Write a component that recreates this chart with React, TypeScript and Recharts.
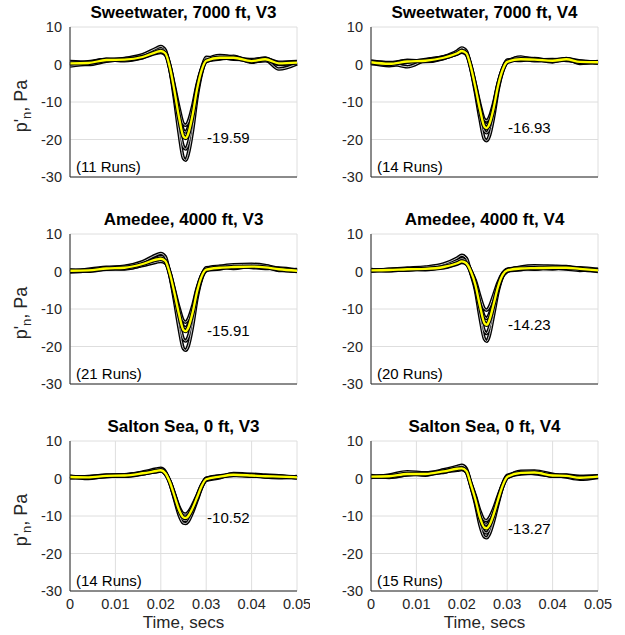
import { LineChart, Line, XAxis, YAxis, CartesianGrid, ReferenceDot } from 'recharts';

// sample times (s), denser through the pressure dip
const times = [
  0, 0.004, 0.008, 0.012, 0.016, 0.019, 0.02, 0.021, 0.022, 0.023, 0.024, 0.025, 0.0255, 0.026,
  0.027, 0.028, 0.029, 0.03, 0.033, 0.036, 0.04, 0.043, 0.046, 0.05,
];
const xTicks = [0, 0.01, 0.02, 0.03, 0.04, 0.05];
const yTicks = [-30, -20, -10, 0, 10];

const sweetwaterV3Mean = [0.3, 0.4, 1.2, 1.3, 2.0, 3.3, 3.6, 3.0, -0.8, -7.0, -14.0, -19.2, -19.59, -18.6, -13.5, -6.5, -1.5, 1.0, 1.8, 1.8, 0.9, 1.4, 0.3, 0.5];
const sweetwaterV3Runs = [
  [-0.4, 0.2, 1.0, 1.6, 2.6, 4.3, 4.8, 3.8, -1.2, -9.0, -18.0, -25.0, -25.5, -24.0, -17.5, -8.5, -2.2, 1.2, 2.4, 2.0, 1.2, 1.7, 0.0, 0.6],
  [0.8, 0.6, 1.4, 1.2, 2.2, 3.8, 4.2, 3.4, -1.0, -8.0, -16.0, -22.0, -22.5, -21.3, -15.5, -7.5, -1.8, 0.8, 1.5, 2.2, 0.6, 1.2, -1.2, 0.2],
  [0.1, 0.7, 1.3, 1.0, 1.8, 3.0, 3.2, 2.6, -0.6, -6.5, -12.8, -17.6, -18.0, -17.0, -12.4, -5.9, -1.2, 1.6, 1.9, 1.4, 1.3, 1.6, 0.6, 0.8],
  [0.5, 0.0, 0.9, 1.5, 2.3, 3.4, 3.9, 3.2, -0.3, -5.8, -11.5, -15.9, -16.2, -15.4, -11.2, -5.3, -1.0, 1.9, 1.6, 1.7, 0.8, 1.0, 0.3, 0.3],
];

const sweetwaterV4Mean = [0.6, 0.2, 0.8, 1.0, 1.8, 3.0, 3.6, 3.0, -0.7, -6.1, -12.0, -16.6, -16.93, -16.1, -11.7, -5.6, -1.4, 0.7, 1.4, 1.3, 1.0, 1.4, 0.7, 0.6];
const sweetwaterV4Runs = [
  [0.4, -0.3, 0.6, 1.3, 2.1, 3.6, 4.4, 3.6, -1.0, -7.4, -14.4, -19.9, -20.3, -19.3, -14.0, -6.7, -1.8, 0.6, 2.0, 1.2, 1.3, 1.1, 0.9, 0.5],
  [0.9, 0.5, 1.0, 0.8, 1.6, 3.2, 3.9, 3.2, -0.8, -6.6, -12.9, -17.8, -18.2, -17.3, -12.6, -6.0, -1.5, 1.0, 1.8, 1.5, 0.7, 1.6, 0.3, 0.8],
  [0.2, 0.3, -0.6, 1.2, 2.0, 2.8, 3.3, 2.7, -0.5, -5.8, -11.4, -15.7, -16.0, -15.2, -11.0, -5.3, -1.2, 0.9, 1.5, 1.0, 1.2, 1.5, 0.9, 0.4],
  [0.7, 0.1, 1.1, 0.9, 1.7, 2.9, 3.5, 2.9, -0.4, -5.4, -10.7, -14.7, -15.0, -14.3, -10.4, -5.0, -1.1, 1.2, 1.1, 1.6, 0.9, 1.2, 0.5, 0.7],
];

const amedeeV3Mean = [0.2, 0.3, 0.8, 1.0, 2.0, 3.2, 3.4, 2.8, -0.6, -5.7, -11.3, -15.6, -15.91, -15.1, -11.0, -5.3, -1.3, 0.5, 1.0, 1.2, 1.3, 1.1, 0.6, 0.2];
const amedeeV3Runs = [
  [0.0, 0.6, 1.1, 1.4, 2.6, 4.4, 4.8, 3.9, -1.0, -7.6, -14.9, -20.6, -21.0, -20.0, -14.5, -6.9, -1.9, 0.2, 1.3, 1.8, 1.9, 1.6, 0.8, 0.0],
  [0.4, 0.1, 0.6, 0.7, 1.8, 3.6, 4.0, 3.3, -0.8, -6.7, -13.1, -18.1, -18.5, -17.6, -12.8, -6.1, -1.6, 0.8, 1.4, 1.0, 1.7, 1.3, 0.3, 0.5],
  [0.2, 0.4, 0.9, 1.2, 2.2, 2.8, 3.0, 2.5, -0.4, -5.4, -10.6, -14.7, -15.0, -14.3, -10.4, -5.0, -1.1, 0.4, 0.7, 1.5, 1.1, 0.8, 0.9, 0.3],
  [-0.1, 0.2, 1.0, 0.8, 1.6, 2.5, 2.7, 2.3, -0.3, -4.9, -9.6, -13.2, -13.5, -12.8, -9.3, -4.5, -1.0, 1.0, 1.2, 0.8, 1.4, 1.5, 0.4, 0.1],
];

const amedeeV4Mean = [0.3, 0.4, 0.6, 0.7, 1.2, 2.2, 2.7, 2.2, 0.0, -3.6, -9.2, -13.8, -14.23, -13.2, -8.8, -4.0, -0.9, 0.3, 0.8, 0.9, 1.0, 1.0, 0.7, 0.3];
const amedeeV4Runs = [
  [0.1, 0.6, 0.9, 1.2, 2.0, 3.6, 4.3, 3.5, -0.5, -4.9, -12.1, -18.0, -18.6, -17.3, -11.5, -5.2, -1.3, 0.0, 1.2, 1.5, 1.4, 1.3, 0.8, 0.0],
  [0.5, 0.2, 0.5, 0.9, 1.6, 2.9, 3.4, 2.8, -0.3, -4.2, -10.7, -16.0, -16.5, -15.3, -10.2, -4.6, -1.1, 0.5, 1.0, 0.6, 1.3, 0.8, 1.0, 0.5],
  [0.2, 0.5, 0.7, 0.5, 1.3, 2.4, 2.9, 2.3, 0.1, -3.1, -8.1, -12.1, -12.5, -11.6, -7.8, -3.5, -0.7, 0.2, 0.5, 1.1, 0.7, 1.2, 0.5, 0.2],
  [0.4, 0.3, 0.4, 0.8, 1.0, 2.0, 2.4, 2.0, 0.2, -2.5, -6.7, -10.0, -10.3, -9.6, -6.4, -2.9, -0.5, 0.6, 0.9, 0.7, 0.9, 0.7, 0.3, 0.6],
];

const saltonV3Mean = [0.4, 0.3, 0.7, 0.8, 1.4, 2.0, 2.2, 1.4, -1.0, -4.6, -8.3, -10.4, -10.52, -10.1, -7.9, -5.0, -2.0, -0.2, 0.5, 1.0, 0.8, 0.6, 0.5, 0.3];
const saltonV3Runs = [
  [0.2, 0.4, 0.9, 1.0, 1.7, 2.5, 2.7, 1.8, -1.2, -5.4, -9.6, -11.9, -12.0, -11.5, -9.0, -5.8, -2.4, -0.5, 0.2, 1.3, 1.0, 0.4, 0.2, 0.5],
  [0.6, 0.0, 0.6, 0.6, 1.2, 2.2, 2.4, 1.6, -1.1, -5.0, -8.9, -11.1, -11.2, -10.8, -8.4, -5.4, -2.2, 0.0, 0.7, 0.8, 1.1, 0.9, 0.7, 0.2],
  [0.3, 0.5, 0.8, 1.0, 1.5, 1.8, 2.0, 1.2, -0.8, -4.3, -7.9, -9.9, -10.0, -9.6, -7.5, -4.8, -1.9, -0.3, 0.4, 1.1, 0.6, 0.7, 0.4, 0.4],
  [0.5, 0.3, 0.5, 0.8, 1.3, 1.9, 2.1, 1.3, -0.7, -4.1, -7.5, -9.4, -9.5, -9.1, -7.1, -4.5, -1.7, 0.1, 0.6, 0.9, 0.7, 0.5, 0.6, 0.2],
];

const saltonV4Mean = [0.5, 0.6, 1.2, 1.2, 1.9, 2.6, 2.7, 2.0, -1.6, -5.6, -10.4, -13.1, -13.27, -12.6, -9.6, -5.6, -1.9, 0.4, 1.5, 1.6, 0.8, 0.7, 0.2, 0.5];
const saltonV4Runs = [
  [0.3, 0.9, 1.8, 1.5, 2.3, 3.2, 3.5, 2.6, -2.0, -6.7, -12.4, -15.6, -15.8, -15.0, -11.4, -6.6, -2.2, 0.2, 1.9, 2.0, 1.1, 0.4, -0.2, 0.3],
  [0.8, 0.4, 1.0, 1.4, 1.6, 2.8, 3.0, 2.2, -1.8, -6.1, -11.3, -14.3, -14.5, -13.8, -10.4, -6.1, -2.0, 0.6, 1.4, 1.8, 0.6, 0.9, 0.5, 0.7],
  [0.4, 0.7, 1.4, 0.9, 2.1, 2.4, 2.5, 1.9, -1.5, -5.1, -9.5, -12.1, -12.2, -11.6, -8.8, -5.1, -1.7, 0.3, 1.2, 1.4, 1.0, 0.8, 0.3, 0.4],
  [0.6, 0.3, 1.0, 1.3, 1.8, 2.2, 2.4, 1.7, -1.3, -4.7, -8.7, -11.1, -11.2, -10.6, -8.1, -4.7, -1.5, 0.8, 1.6, 1.3, 0.7, 0.6, 0.5, 0.6],
];

type Panel = { title: string; nRuns: number; mean: number[]; runs: number[][] };

const panels: Panel[] = [
  { title: 'Sweetwater, 7000 ft, V3', nRuns: 11, mean: sweetwaterV3Mean, runs: sweetwaterV3Runs },
  { title: 'Sweetwater, 7000 ft, V4', nRuns: 14, mean: sweetwaterV4Mean, runs: sweetwaterV4Runs },
  { title: 'Amedee, 4000 ft, V3', nRuns: 21, mean: amedeeV3Mean, runs: amedeeV3Runs },
  { title: 'Amedee, 4000 ft, V4', nRuns: 20, mean: amedeeV4Mean, runs: amedeeV4Runs },
  { title: 'Salton Sea, 0 ft, V3', nRuns: 14, mean: saltonV3Mean, runs: saltonV3Runs },
  { title: 'Salton Sea, 0 ft, V4', nRuns: 15, mean: saltonV4Mean, runs: saltonV4Runs },
];

const FONT = '"Liberation Sans", Arial, Helvetica, sans-serif';
const INK = '#262626';
const PLOT_W = 227;
const ROW_H = 207;

function toRows(p: Panel) {
  return times.map((t, i) => {
    const row: Record<string, number> = { t, mean: p.mean[i] };
    p.runs.forEach((r, k) => {
      row['r' + k] = r[i];
    });
    return row;
  });
}

function YLabel({ viewBox }: any) {
  const cx = 27;
  const cy = viewBox.y + viewBox.height / 2 + 4;
  return (
    <text
      x={cx}
      y={cy}
      transform={`rotate(-90, ${cx}, ${cy})`}
      textAnchor="middle"
      fontFamily={FONT}
      fontSize={18}
      fill={INK}
    >
      p'
      <tspan dy={4} fontSize={13}>n</tspan>
      <tspan dy={-4}>, Pa</tspan>
    </text>
  );
}

function XLabel({ viewBox }: any) {
  return (
    <text
      x={viewBox.x + viewBox.width / 2}
      y={viewBox.y + 37}
      textAnchor="middle"
      fontFamily={FONT}
      fontSize={17}
      fill={INK}
    >
      Time, secs
    </text>
  );
}

function PulsePanel({ panel, index }: { panel: Panel; index: number }) {
  const col = index % 2;
  const row = Math.floor(index / 2);
  const bottomRow = row === 2;
  const left = col === 0 ? 0 : 310;
  const width = col === 0 ? 310 : 315;
  const axisW = col === 0 ? 70 : 61;
  const top = row * ROW_H;
  const height = bottomRow ? 635 - top : ROW_H;
  const data = toRows(panel);
  const peak = Math.min(...panel.mean);

  return (
    <div style={{ position: 'absolute', left, top, width, height }}>
      <div
        style={{
          position: 'absolute',
          left: axisW - 40,
          width: PLOT_W + 80,
          top: 3,
          textAlign: 'center',
          fontFamily: FONT,
          fontWeight: 'bold',
          fontSize: 17,
          lineHeight: '20px',
          color: '#000',
          whiteSpace: 'nowrap',
        }}
      >
        {panel.title}
      </div>
      <LineChart
        width={width}
        height={height}
        data={data}
        margin={{ top: 27, right: width - axisW - PLOT_W, left: 0, bottom: 0 }}
      >
        <CartesianGrid stroke="#dedede" strokeWidth={1} />
        <XAxis
          type="number"
          dataKey="t"
          domain={[0, 0.05]}
          ticks={xTicks}
          height={bottomRow ? 44 : 30}
          tick={bottomRow ? { fill: INK, fontSize: 14.5, fontFamily: FONT } : false}
          tickLine={false}
          axisLine={{ stroke: INK }}
          label={bottomRow ? <XLabel /> : undefined}
        />
        <YAxis
          type="number"
          domain={[-30, 10]}
          ticks={yTicks}
          width={axisW}
          tick={{ fill: INK, fontSize: 14.5, fontFamily: FONT }}
          tickLine={false}
          axisLine={{ stroke: INK }}
          label={col === 0 ? <YLabel /> : undefined}
        />
        {panel.runs.map((_, k) => (
          <Line
            key={'edge' + k}
            type="monotone"
            dataKey={'r' + k}
            stroke="#000"
            strokeWidth={3.6}
            dot={false}
            activeDot={false}
            isAnimationActive={false}
          />
        ))}
        {panel.runs.map((_, k) => (
          <Line
            key={'core' + k}
            type="monotone"
            dataKey={'r' + k}
            stroke="#fff"
            strokeWidth={0.8}
            dot={false}
            activeDot={false}
            isAnimationActive={false}
          />
        ))}
        <Line
          key="meanEdge"
          type="monotone"
          dataKey="mean"
          stroke="#000"
          strokeWidth={4.4}
          dot={false}
          activeDot={false}
          isAnimationActive={false}
        />
        <Line
          key="meanCore"
          type="monotone"
          dataKey="mean"
          stroke="#ffff00"
          strokeWidth={2.3}
          dot={false}
          activeDot={false}
          isAnimationActive={false}
        />
        <ReferenceDot
          x={0.0302}
          y={peak}
          r={0}
          ifOverflow="visible"
          shape={(p: any) => (
            <text x={p.cx} y={p.cy} dy="0.35em" fontFamily={FONT} fontSize={15} fill="#000">
              {peak.toFixed(2)}
            </text>
          )}
        />
        <ReferenceDot
          x={0}
          y={-30}
          r={0}
          ifOverflow="visible"
          shape={(p: any) => (
            <text x={p.cx + 6} y={p.cy - 10} dy="0.35em" fontFamily={FONT} fontSize={15} fill="#000">
              ({panel.nRuns} Runs)
            </text>
          )}
        />
      </LineChart>
    </div>
  );
}

export default function App() {
  return (
    <div style={{ position: 'absolute', left: 0, top: 0, width: 625, height: 635, background: '#fff' }}>
      {panels.map((p, i) => (
        <PulsePanel key={p.title} panel={p} index={i} />
      ))}
    </div>
  );
}
